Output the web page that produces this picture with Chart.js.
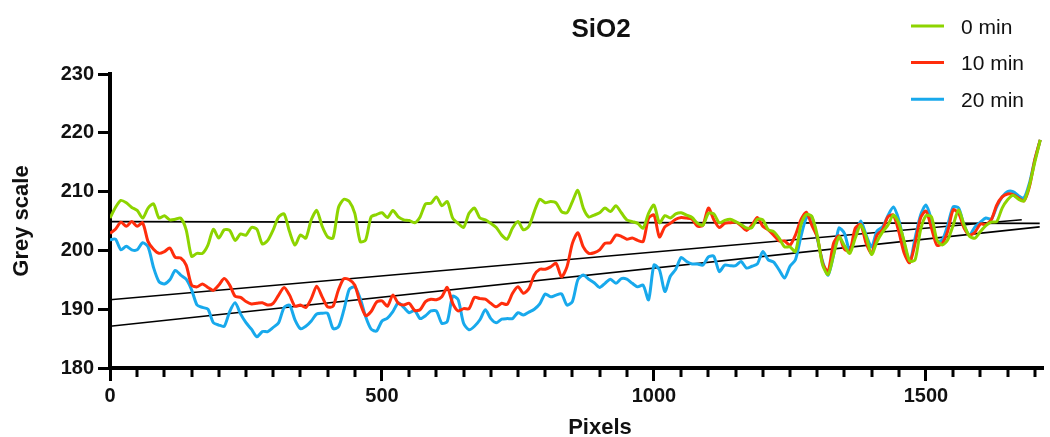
<!DOCTYPE html>
<html>
<head>
<meta charset="utf-8">
<script src="https://cdn.jsdelivr.net/npm/chart.js@4.4.1/dist/chart.umd.min.js"></script>
<style>
  html, body { margin: 0; padding: 0; background: #ffffff; }
  #wrap { width: 1050px; height: 437px; }
</style>
</head>
<body>
<div id="wrap"><canvas id="c" width="1050" height="437"></canvas></div>
<script>
const chartTitle = 'SiO2';
const xAxisTitle = 'Pixels';
const yAxisTitle = 'Grey scale';
const seriesNames = ['0 min', '10 min', '20 min'];

const pixels = [0,10,20,30,40,50,60,70,80,90,100,110,120,130,140,150,160,170,180,190,
200,210,220,230,240,250,260,270,280,290,300,310,320,330,340,350,360,370,380,390,
400,410,420,430,440,450,460,470,480,490,500,510,520,530,540,550,560,570,580,590,
600,610,620,630,640,650,660,670,680,690,700,710,720,730,740,750,760,770,780,790,
800,810,820,830,840,850,860,870,880,890,900,910,920,930,940,950,960,970,980,990,
1000,1010,1020,1030,1040,1050,1060,1070,1080,1090,1100,1110,1120,1130,1140,1150,1160,1170,1180,1190,
1200,1210,1220,1230,1240,1250,1260,1270,1280,1290,1300,1310,1320,1330,1340,1350,1360,1370,1380,1390,
1400,1410,1420,1430,1440,1450,1460,1470,1480,1490,1500,1510,1520,1530,1540,1550,1560,1570,1580,1590,
1600,1610,1620,1630,1640,1650,1660,1670,1680,1690,1700,1710];

const grey0min = [205.5,207.3,208.5,208.1,207.3,206.8,205.5,207.2,207.9,205.5,205.9,205.2,205.3,205.5,203.5,199.0,199.5,199.5,200.9,203.6,
202.1,203.5,203.4,201.7,202.8,202.6,203.9,203.6,201.1,201.7,203.5,205.7,206.2,203.2,200.9,202.6,202.1,205.2,206.8,204.1,
202.3,202.1,207.3,208.7,208.3,206.3,201.5,201.8,205.7,206.1,206.4,205.6,206.8,205.7,205.2,205.1,204.7,205.7,207.9,208.0,
209.1,207.6,208.3,205.5,204.6,203.9,206.3,207.2,205.5,205.2,204.6,203.9,202.6,201.9,203.8,204.9,203.5,204.1,206.6,208.7,
208.1,208.3,208.1,206.6,206.4,208.3,210.2,207.2,205.7,206.0,206.4,207.2,206.6,207.6,206.4,205.2,204.9,204.6,203.8,206.3,
207.7,204.7,205.9,205.5,206.2,206.4,206.0,205.6,204.6,204.3,206.3,206.2,204.7,205.1,205.3,204.9,204.4,203.8,203.9,205.3,
205.2,203.5,203.2,202.1,200.6,200.6,199.8,204.3,206.1,205.8,202.6,197.5,195.9,199.2,202.3,200.8,199.5,202.1,204.3,202.3,
199.3,201.5,203.1,204.3,206.0,204.6,201.5,198.2,198.4,203.5,205.9,205.7,201.8,200.9,201.8,204.3,206.9,204.3,202.4,202.1,
203.2,204.2,204.8,204.9,207.2,208.6,209.4,208.7,208.4,211.0,215.0,218.8];

const grey10min = [202.9,203.6,204.8,204.1,204.9,204.1,204.7,201.5,200.2,199.5,199.8,200.4,198.8,198.7,197.5,194.1,193.8,194.3,193.7,193.2,
194.1,195.2,194.1,192.2,192.0,191.3,190.9,191.0,191.1,190.7,191.0,192.4,193.7,192.4,190.5,190.7,190.3,191.8,193.9,192.1,
190.4,190.5,193.3,195.2,195.0,194.1,191.0,188.9,189.6,191.2,191.4,190.5,192.4,191.0,190.7,191.0,189.8,189.9,191.3,191.7,
191.6,192.1,193.7,191.0,189.7,190.1,190.1,192.0,191.8,191.7,191.0,190.4,191.0,190.8,192.7,193.8,192.7,193.5,195.8,196.8,
196.8,197.2,197.8,195.5,197.2,201.2,203.0,200.6,199.5,199.6,200.1,201.2,201.3,202.6,202.4,201.9,202.1,201.7,201.5,205.5,
206.0,202.3,204.0,204.6,205.3,205.6,205.5,205.3,204.1,204.3,207.2,205.2,203.9,204.6,204.7,204.8,204.2,203.4,204.3,205.6,
204.1,203.5,202.6,201.6,201.6,200.9,202.6,205.2,206.5,204.3,202.3,197.8,196.4,201.2,202.5,200.2,199.9,203.8,204.4,201.2,
199.5,202.6,203.5,205.7,206.0,203.2,199.5,197.9,201.2,205.5,206.7,203.8,200.9,201.2,203.3,206.9,206.3,203.8,202.6,203.1,
204.5,204.4,205.2,207.7,209.1,209.6,209.5,208.9,208.4,210.8,215.4,218.8];

const grey20min = [201.8,201.9,200.1,200.7,200.1,200.1,201.3,200.6,197.1,194.7,194.3,195.0,196.6,195.8,195.1,193.3,190.7,190.3,190.0,187.7,
187.3,187.1,189.6,191.1,189.2,187.7,186.6,185.3,186.2,186.2,186.9,187.7,190.3,190.7,188.2,186.7,187.1,188.0,189.2,189.3,
189.3,186.7,187.0,189.9,193.4,193.8,191.8,188.7,186.6,186.3,188.0,188.5,189.6,191.1,190.3,189.4,189.8,188.4,188.9,189.7,
189.7,187.6,187.9,192.2,191.6,187.6,186.5,187.1,188.2,189.9,188.4,187.7,188.3,188.4,188.4,189.4,189.0,189.5,190.0,190.9,
192.6,192.1,192.4,192.6,190.7,191.3,195.0,195.8,195.1,194.5,193.7,194.4,195.1,194.4,195.2,195.1,194.4,193.8,194.1,191.6,
197.5,196.7,193.0,195.6,196.8,198.8,198.1,197.7,197.7,197.5,198.9,199.0,196.4,197.5,197.4,197.4,198.1,197.0,197.3,197.7,
199.8,198.4,198.0,196.7,195.3,197.3,198.4,202.3,205.5,205.7,202.1,198.1,195.8,199.2,203.8,202.9,199.9,202.6,205.0,202.6,
200.6,203.3,204.0,205.9,207.4,205.2,201.2,198.0,202.1,206.0,207.7,205.2,201.6,201.8,204.3,207.4,207.2,204.3,202.6,204.0,
204.8,205.5,205.3,207.4,209.1,210.0,210.0,209.3,208.9,211.4,215.4,218.8];

// straight reference lines drawn over the profiles: [start pixel, end pixel], [start grey, end grey]
const fitX0 = [0, 1709];   const fitY0 = [204.9, 204.6];
const fitX10 = [0, 1676];  const fitY10 = [191.6, 205.2];
const fitX20 = [0, 1709];  const fitY20 = [187.1, 204.0];

const xTicksMajor = 500;
const xTickStep = 50;

const colors = ['#8dd400', '#ff2d0c', '#18a9ec'];
const FONT = '"Liberation Sans", Arial, Helvetica, sans-serif';

function pts(xs, ys) { return xs.map((x, i) => ({x: x, y: ys[i]})); }

const overlay = {
  id: 'overlay',
  afterDraw(chart) {
    const ctx = chart.ctx;
    const xs = chart.scales.x;
    ctx.save();
    // minor x ticks
    ctx.strokeStyle = '#000';
    ctx.lineWidth = 3;
    xs.ticks.forEach(t => {
      if (t.value % xTicksMajor !== 0) {
        const px = Math.round(xs.getPixelForValue(t.value));
        ctx.beginPath();
        ctx.moveTo(px, chart.chartArea.bottom);
        ctx.lineTo(px, chart.chartArea.bottom + 9);
        ctx.stroke();
      }
    });
    // chart title
    ctx.fillStyle = '#111';
    ctx.textAlign = 'center';
    ctx.textBaseline = 'alphabetic';
    ctx.font = 'bold 26px ' + FONT;
    ctx.fillText(chartTitle, 601, 37);
    // x axis title
    ctx.font = 'bold 22px ' + FONT;
    ctx.fillText(xAxisTitle, 600, 434);
    // legend
    ctx.textAlign = 'left';
    ctx.font = '21px ' + FONT;
    seriesNames.forEach((name, i) => {
      const y = 26 + i * 36.6;
      ctx.strokeStyle = colors[i];
      ctx.lineWidth = 3;
      ctx.beginPath();
      ctx.moveTo(911, y);
      ctx.lineTo(944, y);
      ctx.stroke();
      ctx.fillStyle = '#111';
      ctx.fillText(name, 961, y + 7.5);
    });
    ctx.restore();
  }
};

const lineStyle = (color, order) => ({
  borderColor: color, backgroundColor: color, borderWidth: 3,
  pointRadius: 0, tension: 0.25, fill: false, order: order
});
const fitStyle = {
  borderColor: '#000', backgroundColor: '#000', borderWidth: 1.6,
  pointRadius: 0, tension: 0, fill: false, order: 5
};

new Chart(document.getElementById('c'), {
  type: 'line',
  data: {
    datasets: [
      Object.assign({label: seriesNames[0], data: pts(pixels, grey0min)}, lineStyle(colors[0], 1)),
      Object.assign({label: seriesNames[1], data: pts(pixels, grey10min)}, lineStyle(colors[1], 2)),
      Object.assign({label: seriesNames[2], data: pts(pixels, grey20min)}, lineStyle(colors[2], 3)),
      Object.assign({label: 'fit 0', data: pts(fitX0, fitY0)}, fitStyle),
      Object.assign({label: 'fit 10', data: pts(fitX10, fitY10)}, fitStyle),
      Object.assign({label: 'fit 20', data: pts(fitX20, fitY20)}, fitStyle)
    ]
  },
  options: {
    responsive: false,
    animation: false,
    layout: { padding: { top: 74, right: 6.5, bottom: 0, left: 0 } },
    plugins: { legend: { display: false }, title: { display: false }, tooltip: { enabled: false } },
    scales: {
      x: {
        type: 'linear', min: 0, max: 1716,
        afterFit: s => { s.height = 69; },
        border: { display: true, color: '#000', width: 4 },
        grid: {
          display: true, drawOnChartArea: false, tickLength: 13, tickWidth: 3,
          tickColor: c => (c.tick && c.tick.value % xTicksMajor === 0) ? '#000' : 'rgba(0,0,0,0)'
        },
        ticks: {
          stepSize: xTickStep, autoSkip: false, maxRotation: 0, minRotation: 0, includeBounds: false,
          color: '#111', padding: 3, font: { family: FONT, size: 20, weight: 'bold' },
          callback: v => (v % xTicksMajor === 0) ? String(v) : ''
        }
      },
      y: {
        min: 180, max: 230,
        afterFit: s => { s.width = 110; },
        border: { display: true, color: '#000', width: 4 },
        grid: { display: true, drawOnChartArea: false, tickLength: 12, tickWidth: 3, tickColor: '#000' },
        ticks: { stepSize: 10, color: '#111', padding: 4, font: { family: FONT, size: 20, weight: 'bold' } },
        title: { display: true, text: yAxisTitle, color: '#111', font: { family: FONT, size: 22, weight: 'bold' }, padding: { top: 9, bottom: 0 } }
      }
    }
  },
  plugins: [overlay]
});
</script>
</body>
</html>
